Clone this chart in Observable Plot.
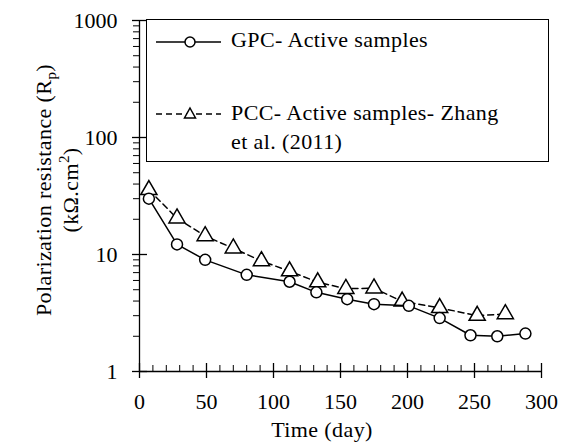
<!DOCTYPE html>
<html>
<head>
<meta charset="utf-8">
<script src="https://cdn.jsdelivr.net/npm/d3@7"></script>
<script src="https://cdn.jsdelivr.net/npm/@observablehq/plot@0.6"></script>
<style>
  body { margin: 0; background: #fff; }
  .serif { font-family: 'Liberation Serif', 'Times New Roman', serif; }
  .lt { position: absolute; font-size: 22px; line-height: 29px; color: #000; white-space: nowrap; letter-spacing: 0.4px; }
</style>
</head>
<body>
<div id="wrap" class="serif" style="position:relative;width:563px;height:446px;"></div>
<script>
// Data
const gpcDays = [7, 28, 49, 80, 112, 132, 155, 175, 201, 224, 247, 267, 288];
const gpcRp   = [30, 12.2, 9.0, 6.7, 5.85, 4.75, 4.15, 3.76, 3.64, 2.86, 2.04, 2.0, 2.11];
const pccDays = [7, 28, 49, 70, 91, 112, 133, 154, 175, 196, 224, 252, 273];
const pccRp   = [35.7, 20.4, 14.4, 11.3, 8.8, 7.2, 5.8, 5.1, 5.15, 3.97, 3.5, 3.0, 3.1];
const xTicks = [0, 50, 100, 150, 200, 250, 300];
const xMinor = d3.range(0, 301, 10);
const yTicks = [1, 10, 100, 1000];
const yMinor = [1, 10, 100].flatMap(d => [2,3,4,5,6,7,8,9].map(k => k * d));
const seriesNames = ["GPC- Active samples", "PCC- Active samples- Zhang", "et al. (2011)"];

const gpc = gpcDays.map((d, i) => ({day: d, rp: gpcRp[i]}));
const pcc = pccDays.map((d, i) => ({day: d, rp: pccRp[i]}));

const font = "'Liberation Serif', 'Times New Roman', serif";

const chart = Plot.plot({
  width: 563,
  height: 446,
  marginLeft: 139,
  marginRight: 22,
  marginTop: 20,
  marginBottom: 75,
  style: {fontFamily: font, fontSize: "22px", color: "#000", background: "#fff"},
  x: {domain: [0, 300], label: null},
  y: {type: "log", domain: [1, 1000], label: null},
  marks: [
    Plot.ruleX([0], {stroke: "#000", strokeWidth: 1.3}),
    Plot.ruleY([1], {stroke: "#000", strokeWidth: 1.3}),
    Plot.axisY({ticks: yMinor, tickSize: 6, text: null, label: null, stroke: "#000", strokeWidth: 1}),
    Plot.axisY({ticks: yTicks, tickSize: 15, dx: 8, text: null, label: null, stroke: "#000", strokeWidth: 1.3}),
    Plot.axisY({ticks: yTicks, tickSize: 0, tickPadding: 22, tickFormat: d => String(d), label: null, fontSize: 22, fill: "#000", letterSpacing: 1}),
    Plot.axisX({ticks: xMinor, tickSize: 6, dy: -6, text: null, label: null, stroke: "#000", strokeWidth: 1}),
    Plot.axisX({ticks: xTicks, tickSize: 15, dy: -8, text: null, label: null, stroke: "#000", strokeWidth: 1.3}),
    Plot.axisX({ticks: xTicks, tickSize: 0, tickPadding: 22, tickFormat: d => String(d), label: null, fontSize: 22, fill: "#000", letterSpacing: 1}),
    Plot.line(pcc, {x: "day", y: "rp", stroke: "#000", strokeWidth: 1.5, strokeDasharray: "6,4"}),
    Plot.dot(pcc, {x: "day", y: "rp", symbol: "triangle", r: 6, fill: "#fff", stroke: "#000", strokeWidth: 1.5}),
    Plot.line(gpc, {x: "day", y: "rp", stroke: "#000", strokeWidth: 1.5}),
    Plot.dot(gpc, {x: "day", y: "rp", r: 5.5, fill: "#fff", stroke: "#000", strokeWidth: 1.5})
  ]
});

const svg = d3.select(chart);
const yt = svg.append("text")
  .attr("transform", "translate(51,190) rotate(-90)")
  .attr("text-anchor", "middle")
  .style("font-family", font).attr("font-size", 22).attr("fill", "#000").attr("letter-spacing", 0.4);
yt.append("tspan").text("Polarization resistance (R");
yt.append("tspan").attr("font-size", 15).attr("dy", 5).text("p");
yt.append("tspan").attr("dy", -5).text(")");
const yt2 = svg.append("text")
  .attr("transform", "translate(78,190) rotate(-90)")
  .attr("text-anchor", "middle")
  .style("font-family", font).attr("font-size", 22).attr("fill", "#000").attr("letter-spacing", 0.4);
yt2.append("tspan").text("(kΩ.cm");
yt2.append("tspan").attr("font-size", 15).attr("dy", -9).text("2");
yt2.append("tspan").attr("dy", 9).text(")");
svg.append("text")
  .attr("x", 322).attr("y", 437)
  .attr("text-anchor", "middle")
  .style("font-family", font).attr("font-size", 22).attr("fill", "#000").attr("letter-spacing", 0.4)
  .text("Time (day)");

const wrap = document.getElementById("wrap");
wrap.appendChild(chart);

const legend = document.createElement("div");
legend.className = "serif";
legend.style.cssText = "position:absolute;left:146px;top:19px;width:403px;height:143px;border:1px solid #000;background:#fff;box-sizing:border-box;";
legend.innerHTML = `
<svg width="403" height="143" style="position:absolute;left:0;top:0">
  <line x1="9" y1="22" x2="74" y2="22" stroke="#000" stroke-width="1.5"/>
  <circle cx="43" cy="22" r="5" fill="#fff" stroke="#000" stroke-width="1.5"/>
  <line x1="9" y1="94" x2="74" y2="94" stroke="#000" stroke-width="1.5" stroke-dasharray="6,4"/>
  <path d="M43,88 L48.5,98 L37.5,98 Z" fill="#fff" stroke="#000" stroke-width="1.5"/>
</svg>
<div class="lt serif" style="left:84px; top:5px;">${seriesNames[0]}</div>
<div class="lt serif" style="left:84px; top:78px;">${seriesNames[1]}<br>${seriesNames[2]}</div>
`;
wrap.appendChild(legend);
</script>
</body>
</html>
